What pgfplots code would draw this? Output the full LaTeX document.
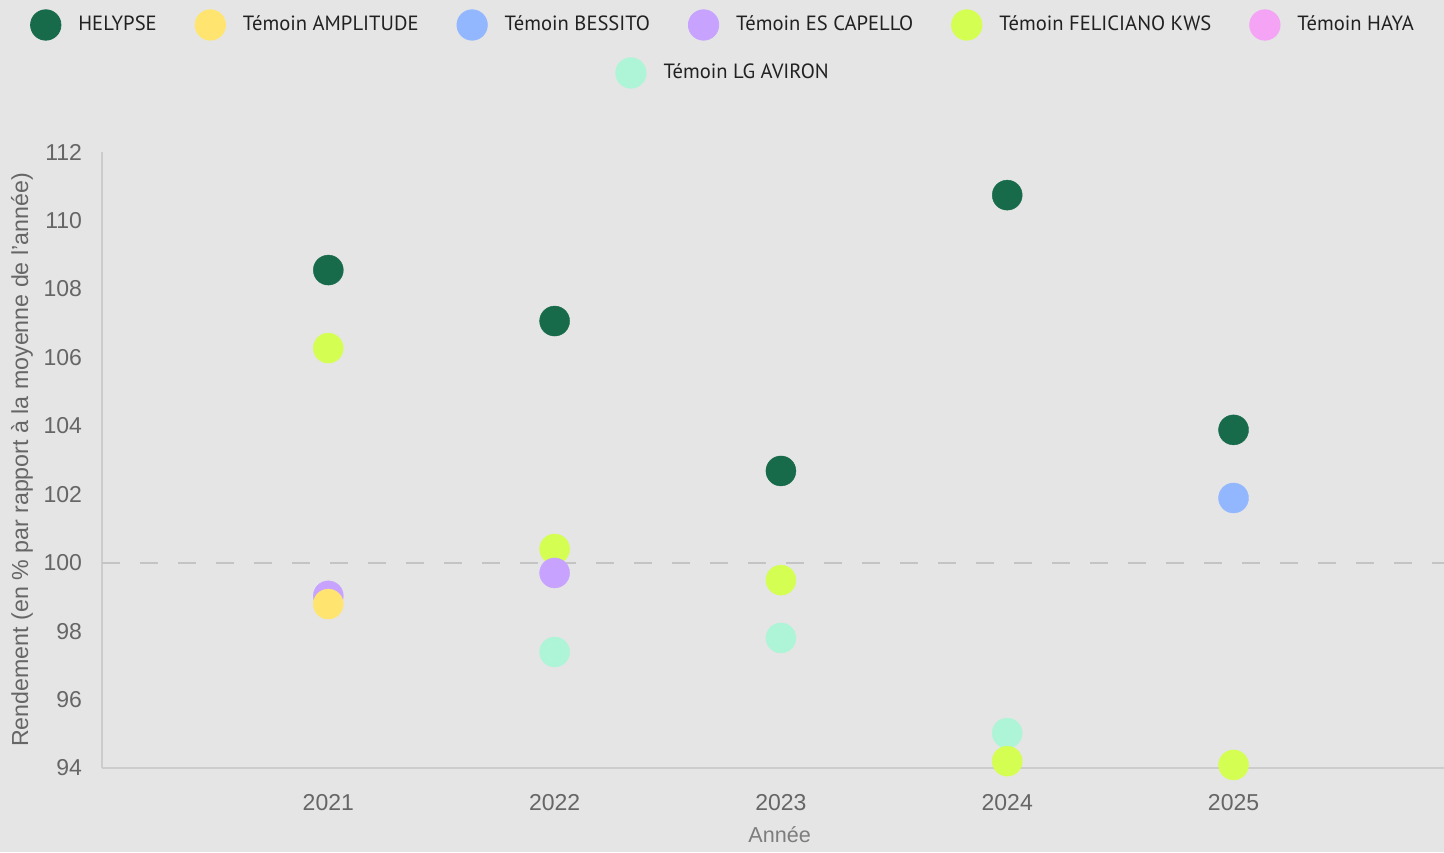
\documentclass[border=0pt]{standalone}
\usepackage{fontspec}
\setmainfont{Liberation Sans}
\newfontfamily\legfont{PT Sans}
\usepackage{pgfplots}
\pgfplotsset{compat=1.18}
\definecolor{bgc}{HTML}{E5E5E5}
\definecolor{cHEL}{HTML}{176B4A}
\definecolor{cAMP}{HTML}{FFE570}
\definecolor{cBES}{HTML}{93B7FF}
\definecolor{cCAP}{HTML}{C7A3FF}
\definecolor{cFEL}{HTML}{D4FF52}
\definecolor{cHAY}{HTML}{F5A3F5}
\definecolor{cAVI}{HTML}{AEF5D8}
\definecolor{axc}{HTML}{CCCCCC}
\definecolor{txc}{HTML}{666666}
\begin{document}
\begin{tikzpicture}
\fill[bgc] (-51pt,-42pt) rectangle (671pt,384pt);
\pgfplotsset{
  dot/.style={only marks, color=#1, mark=*, mark size=7.5pt, mark options={draw=#1, fill=#1, line width=0.2pt}},
  legimg/.style={legend image code/.code={\fill[#1] (0.3cm,0pt) circle (7.6pt);}},
}
\begin{axis}[
  at={(0,0)}, anchor=south west,
  scale only axis, width=671pt, height=308pt,
  xmin=2020, xmax=2025.93, ymin=94, ymax=112,
  xtick={2021,2022,2023,2024,2025},
  ytick={94,96,...,112},
  /pgf/number format/1000 sep={},
  /pgf/number format/assume math mode=true,
  axis x line=bottom, axis y line=left,
  axis line style={-, draw=axc, line width=0.6pt},
  major tick length=0pt,
  tick label style={font=\fontsize{11.5}{13}\selectfont, text=txc},
  yticklabel style={xshift=-6.5pt},
  xticklabel style={yshift=-9.5pt},
  extra y ticks={100}, extra y tick labels={},
  extra y tick style={grid=major, grid style={draw=axc!90!gray, line width=1pt, dash pattern=on 9pt off 10pt}},
  ylabel={Rendement (en \% par rapport à la moyenne de l'année)},
  ylabel style={at={(axis description cs:-0.0596,0.5)}, anchor=center, font=\fontsize{11.6}{13}\selectfont, text=txc},
  xlabel={Année},
  xlabel style={at={(axis description cs:0.505,0)}, anchor=center, yshift=-33.5pt, font=\fontsize{10.8}{12}\selectfont, text=txc!85!white},
  clip=false,
  legend columns=6,
  legend style={at={(axis description cs:0.4635,1.2062)}, anchor=center, draw=none, fill=none,
    font=\legfont\fontsize{10.3}{12}\selectfont, text=black!87,
    /tikz/every even column/.append style={column sep=17pt},
    /tikz/every odd column/.append style={column sep=6.5pt}},
]
% drawn in reverse order so earlier series lie on top
\addplot[dot=cAVI, forget plot] coordinates {(2022,97.39) (2023,97.8) (2024,95.02)};
\addplot[dot=cFEL, forget plot] coordinates {(2021,106.27) (2022,100.4) (2023,99.49) (2024,94.2) (2025,94.09)};
\addplot[dot=cCAP, forget plot] coordinates {(2021,99.03) (2022,99.7)};
\addplot[dot=cBES, forget plot] coordinates {(2025,101.89)};
\addplot[dot=cAMP, forget plot] coordinates {(2021,98.79)};
\addplot[dot=cHEL, forget plot] coordinates {(2021,108.55) (2022,107.06) (2023,102.68) (2024,110.74) (2025,103.88)};
\addlegendimage{legimg=cHEL}\addlegendentry{HELYPSE}
\addlegendimage{legimg=cAMP}\addlegendentry{Témoin AMPLITUDE}
\addlegendimage{legimg=cBES}\addlegendentry{Témoin BESSITO}
\addlegendimage{legimg=cCAP}\addlegendentry{Témoin ES CAPELLO}
\addlegendimage{legimg=cFEL}\addlegendentry{Témoin FELICIANO KWS}
\addlegendimage{legimg=cHAY}\addlegendentry{Témoin HAYA}
\end{axis}
\begin{axis}[
  at={(0,0)}, anchor=south west,
  scale only axis, width=671pt, height=308pt,
  xmin=0, xmax=1, ymin=0, ymax=1, hide axis,
  legend style={at={(axis description cs:0.4635,1.1283)}, anchor=center, draw=none, fill=none,
    font=\legfont\fontsize{10.3}{12}\selectfont, text=black!87,
    /tikz/every odd column/.append style={column sep=6.5pt}},
]
\addlegendimage{legimg=cAVI}\addlegendentry{Témoin LG AVIRON}
\end{axis}
\pgfresetboundingbox
\path (-51pt,-42pt) rectangle (671pt,384pt);
\end{tikzpicture}
\end{document}
